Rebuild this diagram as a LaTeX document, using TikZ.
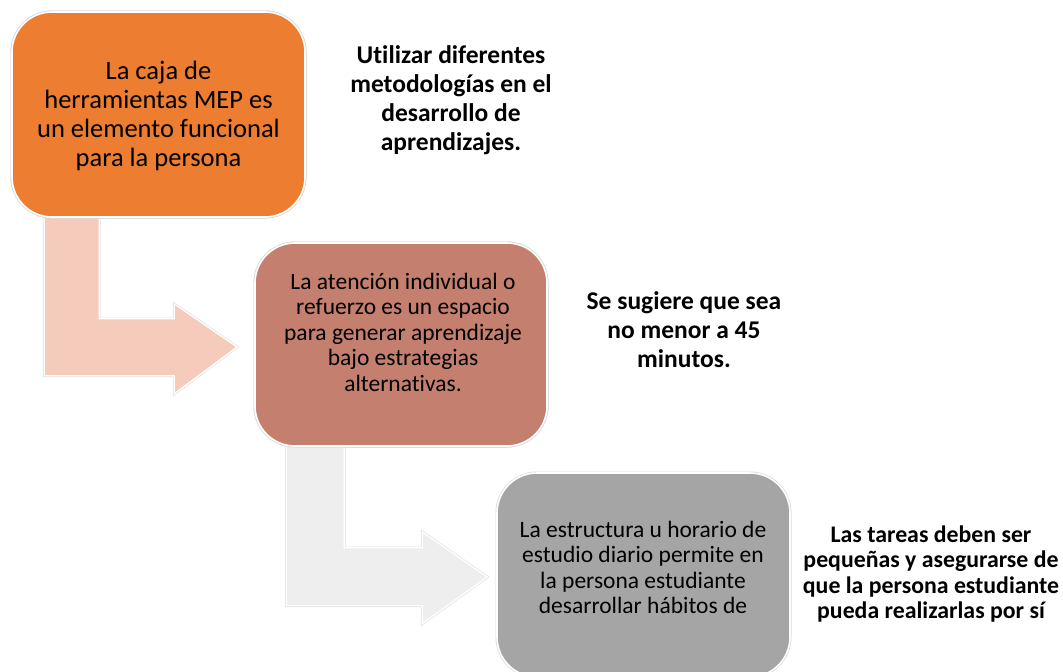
\documentclass[tikz,border=0pt]{standalone}
\usepackage{fontspec}
\setmainfont{Carlito}[Ligatures=NoCommon]
\usetikzlibrary{calc}
\definecolor{orangebox}{HTML}{ED7D31}
\definecolor{brownbox}{HTML}{C47F6F}
\definecolor{graybox}{HTML}{A5A5A5}
\definecolor{peach}{HTML}{F5CCBB}
\definecolor{lightgray}{HTML}{EDEEED}
\tikzset{
  box/.style={rectangle, rounded corners=40pt, draw=white, line width=1.6pt,
    preaction={draw=black!15, line width=3pt}, inner sep=0pt},
  bentarrow/.style={draw=white, line width=1.3pt, preaction={draw=black!12, line width=2.6pt}, line join=miter},
  boxtext/.style={align=center, inner sep=0pt},
  sidetext/.style={align=center, inner sep=0pt},
}
\begin{document}
\begin{tikzpicture}[x=1pt,y=-1pt]
\useasboundingbox (0,0) rectangle (1063,672);
\clip (0,0) rectangle (1063,672);
\fill[white] (0,0) rectangle (1063,672);
% boxes (placed first so arrows can refer to them)
\node[box, fill=orangebox, minimum width=293pt, minimum height=205pt] (b1) at (158.5,114.5) {};
\node[box, fill=brownbox, minimum width=292pt, minimum height=203pt] (b2) at (401,344.5) {};
\node[box, fill=graybox, minimum width=293pt, minimum height=204pt] (b3) at (643.5,575) {};
% bent arrows (from box to box)
\draw[bentarrow, fill=peach]
  ($(b1.south west)+(33,-2)$) -- ($(b1.south west)+(88,-2)$) -- ($(b1.south west)+(88,101)$)
  -- ($(b1.south west)+(163,101)$) -- ($(b1.south west)+(163,86)$) -- ($(b2.west)+(-17,2.5)$)
  -- ($(b1.south west)+(163,176)$) -- ($(b1.south west)+(163,158)$) -- ($(b1.south west)+(33,158)$) -- cycle;
\draw[bentarrow, fill=lightgray]
  ($(b2.south west)+(32,-2)$) -- ($(b2.south west)+(90,-2)$) -- ($(b2.south west)+(90,101)$)
  -- ($(b2.south west)+(168,101)$) -- ($(b2.south west)+(168,85)$) -- ($(b3.west)+(-9,2)$)
  -- ($(b2.south west)+(168,177)$) -- ($(b2.south west)+(168,159)$) -- ($(b2.south west)+(32,159)$) -- cycle;
% redraw boxes on top of arrow stems
\node[box, fill=orangebox, minimum width=293pt, minimum height=205pt] at (b1) {};
\node[box, fill=brownbox, minimum width=292pt, minimum height=203pt] at (b2) {};
% box texts
\node[boxtext, font=\fontsize{26.5}{29}\selectfont] (t1) at (158.5,116) {La caja de\\herramientas MEP es\\un elemento funcional\\para la persona};
\node[boxtext, font=\fontsize{23.5}{25.5}\selectfont] (t2) at (403,332) {La atención individual o\\refuerzo es un espacio\\para generar aprendizaje\\bajo estrategias\\alternativas.};
\node[boxtext, font=\fontsize{23.5}{25.5}\selectfont] (t3) at (643,567.5) {La estructura u horario de\\estudio diario permite en\\la persona estudiante\\desarrollar hábitos de};
% side texts
\node[sidetext, font=\bfseries\fontsize{25.5}{29}\selectfont] (s1) at (451,100) {Utilizar diferentes\\metodologías en el\\desarrollo de\\aprendizajes.};
\node[sidetext, font=\bfseries\fontsize{25.5}{29}\selectfont] (s2) at (684,330) {Se sugiere que sea\\no menor a 45\\minutos.};
\node[sidetext, font=\bfseries\fontsize{23.8}{25.5}\selectfont] (s3) at (931,574) {Las tareas deben ser\\pequeñas y asegurarse de\\que la persona estudiante\\pueda realizarlas por sí};
\end{tikzpicture}
\end{document}
